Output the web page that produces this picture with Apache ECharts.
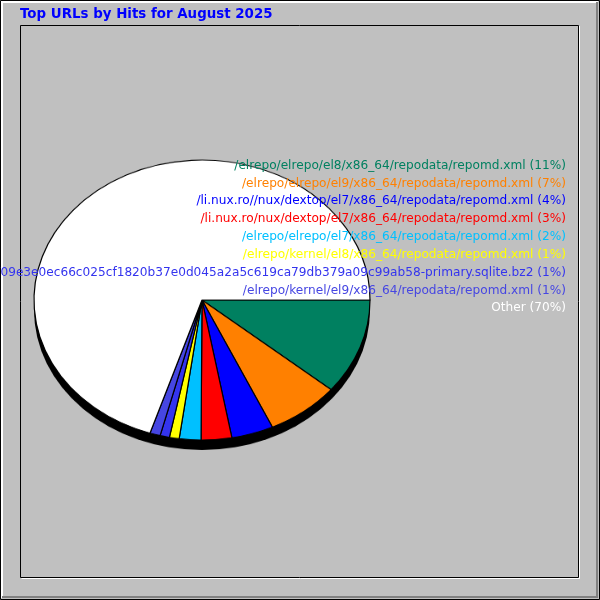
<!DOCTYPE html>
<html>
<head>
<meta charset="utf-8">
<script src="https://cdn.jsdelivr.net/npm/echarts@6/dist/echarts.min.js"></script>
<style>
  html, body { margin: 0; padding: 0; background: #C0C0C0; }
  #wrap { position: relative; width: 600px; height: 600px; overflow: hidden; }
  .layer { position: absolute; left: 0; top: 0; width: 600px; height: 600px; }
  #pie { transform: scaleY(0.8333); transform-origin: 0 300px; }
</style>
</head>
<body>
<div id="wrap">
  <div id="bg" class="layer"></div>
  <div id="pie" class="layer"></div>
  <div id="fg" class="layer"></div>
</div>
<script>
// ---- data ----
const titleText = 'Top URLs by Hits for August 2025';
const urls = [
  '/elrepo/elrepo/el8/x86_64/repodata/repomd.xml',
  '/elrepo/elrepo/el9/x86_64/repodata/repomd.xml',
  '/li.nux.ro//nux/dextop/el7/x86_64/repodata/repomd.xml',
  '/li.nux.ro/nux/dextop/el7/x86_64/repodata/repomd.xml',
  '/elrepo/elrepo/el7/x86_64/repodata/repomd.xml',
  '/elrepo/kernel/el8/x86_64/repodata/repomd.xml',
  '/elrepo/elrepo/el9/x86_64/repodata/09e3e0ec66c025cf1820b37e0d045a2a5c619ca79db379a09c99ab58-primary.sqlite.bz2',
  '/elrepo/kernel/el9/x86_64/repodata/repomd.xml',
  'Other'
];
const shares = [11.06, 7.06, 4.03, 2.94, 2.08, 0.94, 0.90, 1.00, 69.99];
const sliceColors = ['#008060', '#FF8000', '#0000FF', '#FF0000', '#00C0FF', '#FFFF00', '#3434EE', '#4646E2', '#FFFFFF'];

// ---- background / frame ----
const bg = echarts.init(document.getElementById('bg'), null, { renderer: 'canvas' });
bg.setOption({
  backgroundColor: '#C0C0C0',
  animation: false,
  graphic: [
    { type: 'rect', shape: { x: 0.5, y: 0.5, width: 599, height: 599 }, style: { fill: null, stroke: '#000', lineWidth: 1 } },
    { type: 'polyline', shape: { points: [[2, 598], [2, 2], [598, 2]] }, style: { stroke: '#FFFFFF', lineWidth: 2, fill: null } },
    { type: 'polyline', shape: { points: [[2, 597], [597, 597], [597, 2]] }, style: { stroke: '#808080', lineWidth: 2, fill: null } },
    { type: 'rect', shape: { x: 20.5, y: 25.5, width: 558, height: 552 }, style: { fill: null, stroke: '#000', lineWidth: 1 } },
    { type: 'polyline', shape: { points: [[21.5, 578.5], [579.5, 578.5], [579.5, 26]] }, style: { stroke: '#FFFFFF', lineWidth: 1, fill: null } }
  ]
});

// ---- pie (circular pie, squashed vertically into an ellipse by the layer) ----
const total = shares.reduce((a, b) => a + b, 0);
const pie = echarts.init(document.getElementById('pie'), null, { renderer: 'canvas' });
pie.setOption({
  animation: false,
  series: [
    {
      type: 'pie',
      silent: true,
      center: [202, 312],
      radius: [0, 168],
      label: { show: false },
      labelLine: { show: false },
      itemStyle: { color: '#000', borderWidth: 0 },
      data: [{ value: total, name: 'edge' }]
    },
    {
      type: 'pie',
      silent: true,
      center: [202, 300],
      radius: [0, 168],
      startAngle: 0,
      clockwise: true,
      avoidLabelOverlap: false,
      minAngle: 0,
      label: { show: false },
      labelLine: { show: false },
      itemStyle: { borderColor: '#000', borderWidth: 1.2 },
      data: urls.map((u, i) => ({ name: u, value: shares[i], itemStyle: { color: sliceColors[i] } }))
    }
  ]
});

// ---- title + legend texts ----
const fg = echarts.init(document.getElementById('fg'), null, { renderer: 'canvas' });
const legendTexts = urls.map((u, i) => ({
  type: 'text',
  right: 34,
  top: 159.5 + i * 17.85,
  style: {
    text: u + ' (' + Math.round(shares[i]) + '%)',
    fill: sliceColors[i],
    font: '12.15px "DejaVu Sans"',
    textAlign: 'right',
    textShadowColor: 'rgba(0,0,0,0.35)',
    textShadowOffsetX: 1,
    textShadowOffsetY: 1,
    textShadowBlur: 0
  }
}));
fg.setOption({
  animation: false,
  title: {
    text: titleText,
    left: 15,
    top: 3,
    textStyle: { color: '#0000FF', fontSize: 13.4, fontWeight: 'bold', fontFamily: 'DejaVu Sans' }
  },
  graphic: legendTexts
});
</script>
</body>
</html>
